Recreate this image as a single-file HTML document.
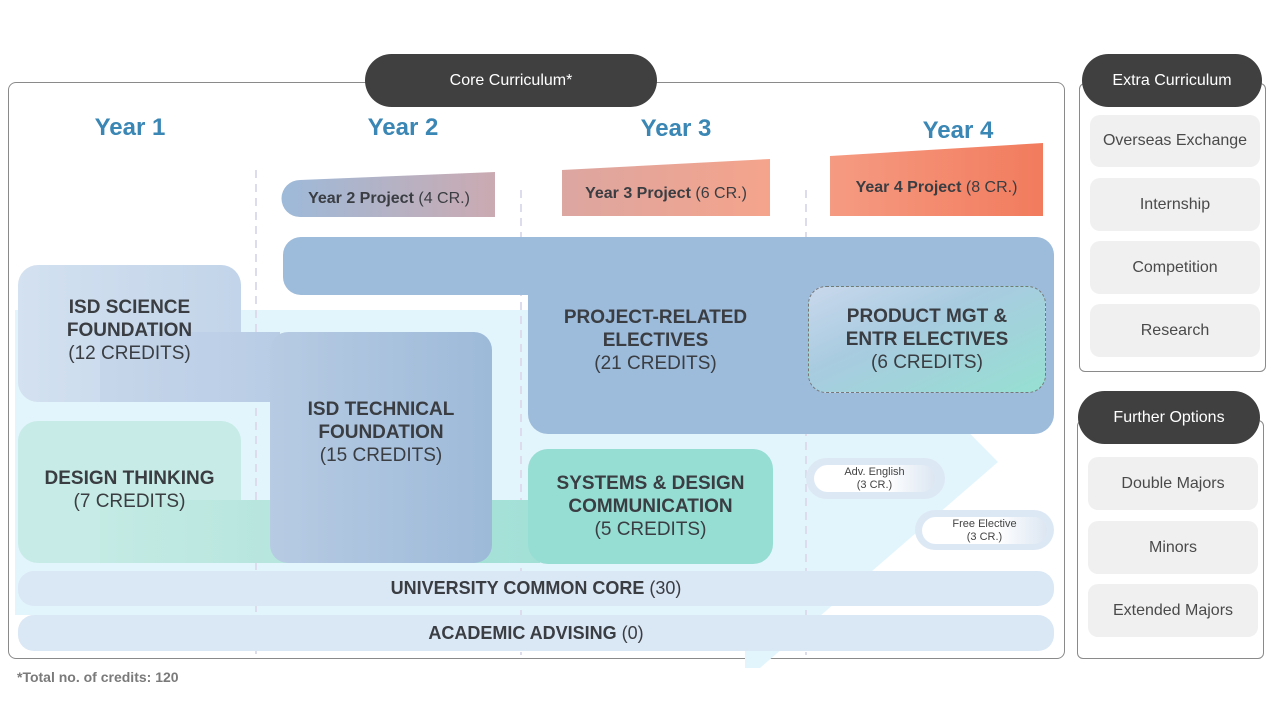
<!DOCTYPE html>
<html><head><meta charset="utf-8"><style>
*{margin:0;padding:0;box-sizing:border-box}
body{width:1280px;height:720px;background:#fff;position:relative;overflow:hidden;font-family:"Liberation Sans",sans-serif;color:#3a3d42}
.a{position:absolute}
.c{display:flex;align-items:center;justify-content:center;text-align:center}
.b{font-weight:bold;font-size:19px;line-height:23px}
.n{font-weight:normal}
.yr{color:#3a86b4;font-weight:bold;font-size:24px;width:160px;text-align:center}
.pill{background:#404040;color:#fff;border-radius:27px;font-size:16px}
.item{background:#f0f0f0;border-radius:10px;font-size:16px;color:#4a4a4a}
</style></head><body>
<div class="a" style="left:8px;top:82px;width:1057px;height:577px;border:1px solid #8a8a8a;border-radius:8px"></div>
<svg class="a" style="left:0;top:0" width="1280" height="720">
<polygon points="15,310 848,310 998,462 760,668 745,668 745,615 15,615" fill="#e3f5fc"/>
<g stroke="#dcdcec" stroke-width="2" stroke-dasharray="8,6">
<line x1="256" y1="170" x2="256" y2="655"/><line x1="521" y1="190" x2="521" y2="655"/><line x1="806" y1="190" x2="806" y2="655"/></g>
<defs>
<linearGradient id="g2"><stop offset="0" stop-color="#9dbad9"/><stop offset="1" stop-color="#cbaab1"/></linearGradient>
<linearGradient id="g3"><stop offset="0" stop-color="#dca6a1"/><stop offset="1" stop-color="#f5a48b"/></linearGradient>
<linearGradient id="g4"><stop offset="0" stop-color="#f59b82"/><stop offset="1" stop-color="#f27b5d"/></linearGradient>
</defs>
<path d="M300,180 L495,172 L495,217 L300,217 A18,18 0 0 1 300,180 Z" fill="url(#g2)"/>
<polygon points="562,170 770,159 770,216 562,216" fill="url(#g3)"/>
<polygon points="830,156 1043,143 1043,216 830,216" fill="url(#g4)"/>
</svg>
<div class="a c" style="left:283px;top:180px;width:212px;height:37px;font-size:16px;font-weight:bold"><div>Year 2 Project <span class="n">(4 CR.)</span></div></div>
<div class="a c" style="left:562px;top:172px;width:208px;height:44px;font-size:16px;font-weight:bold"><div>Year 3 Project <span class="n">(6 CR.)</span></div></div>
<div class="a c" style="left:830px;top:160px;width:213px;height:56px;font-size:16px;font-weight:bold"><div>Year 4 Project <span class="n">(8 CR.)</span></div></div>
<div class="a pill c" style="left:365px;top:54px;width:292px;height:53px">Core Curriculum*</div>
<div class="a yr" style="left:50px;top:114px">Year 1</div>
<div class="a yr" style="left:323px;top:114px">Year 2</div>
<div class="a yr" style="left:596px;top:115px">Year 3</div>
<div class="a yr" style="left:878px;top:117px">Year 4</div>
<!-- project related -->
<div class="a" style="left:283px;top:237px;width:771px;height:58px;background:#9dbbdb;border-radius:18px"></div>
<div class="a" style="left:528px;top:237px;width:526px;height:197px;background:#9dbbdb;border-radius:20px"></div>
<div class="a" style="left:528px;top:260px;width:40px;height:60px;background:#9dbbdb"></div>
<div class="a c b" style="left:528px;top:295px;width:255px;height:90px"><div>PROJECT-RELATED<br>ELECTIVES<br><span class="n">(21 CREDITS)</span></div></div>
<div class="a c b" style="left:808px;top:286px;width:238px;height:107px;border:1px dashed #777;border-radius:18px;background:linear-gradient(155deg,#c9d8ec 0%,#a8cbe0 40%,#96e0d2 100%)"><div>PRODUCT MGT &amp;<br>ENTR ELECTIVES<br><span class="n">(6 CREDITS)</span></div></div>
<!-- science -->
<div class="a" style="left:18px;top:265px;width:223px;height:137px;border-radius:20px;background:linear-gradient(90deg,#d3e1f0,#c2d4e9)"></div>
<div class="a" style="left:100px;top:332px;width:180px;height:70px;background:linear-gradient(90deg,#c6d6ea,#b8cce5)"></div>
<div class="a c b" style="left:18px;top:285px;width:223px;height:90px"><div>ISD SCIENCE<br>FOUNDATION<br><span class="n">(12 CREDITS)</span></div></div>
<!-- design thinking -->
<div class="a" style="left:18px;top:421px;width:223px;height:142px;border-radius:20px;background:#c7ebe6"></div>
<div class="a" style="left:100px;top:500px;width:440px;height:63px;background:linear-gradient(90deg,#c4eae4,#a2e0d6)"></div>
<div class="a c b" style="left:18px;top:460px;width:223px;height:60px"><div>DESIGN THINKING<br><span class="n">(7 CREDITS)</span></div></div>
<!-- technical -->
<div class="a c b" style="left:270px;top:332px;width:222px;height:231px;border-radius:18px;background:linear-gradient(90deg,#b7cbe3,#9dbad9)"><div style="margin-top:-30px">ISD TECHNICAL<br>FOUNDATION<br><span class="n">(15 CREDITS)</span></div></div>
<!-- systems -->
<div class="a c b" style="left:528px;top:449px;width:245px;height:115px;border-radius:20px;background:#96ddd3"><div>SYSTEMS &amp; DESIGN<br>COMMUNICATION<br><span class="n">(5 CREDITS)</span></div></div>
<!-- small pills -->
<div class="a" style="left:806px;top:458px;width:139px;height:41px;border-radius:21px;background:#dde8f5"></div>
<div class="a c" style="left:814px;top:465px;width:121px;height:27px;border-radius:14px;background:linear-gradient(90deg,#fff 60%,#dce6f2);font-size:11px;line-height:13px;color:#444"><div>Adv. English<br>(3 CR.)</div></div>
<div class="a" style="left:915px;top:510px;width:139px;height:40px;border-radius:20px;background:#dde8f5"></div>
<div class="a c" style="left:922px;top:517px;width:125px;height:27px;border-radius:14px;background:linear-gradient(90deg,#fff 60%,#dce6f2);font-size:11px;line-height:13px;color:#444"><div>Free Elective<br>(3 CR.)</div></div>
<!-- bars -->
<div class="a c" style="left:18px;top:571px;width:1036px;height:35px;border-radius:16px;background:#dae7f5;font-weight:bold;font-size:18px"><div>UNIVERSITY COMMON CORE <span class="n">(30)</span></div></div>
<div class="a c" style="left:18px;top:615px;width:1036px;height:36px;border-radius:16px;background:#dae7f5;font-weight:bold;font-size:18px"><div>ACADEMIC ADVISING <span class="n">(0)</span></div></div>
<div class="a" style="left:17px;top:669px;font-size:14px;font-weight:bold;color:#7a7a7a">*Total no. of credits: 120</div>
<!-- right panels -->
<div class="a" style="left:1079px;top:83px;width:187px;height:289px;border:1px solid #8a8a8a;border-radius:6px"></div>
<div class="a pill c" style="left:1082px;top:54px;width:180px;height:53px">Extra Curriculum</div>
<div class="a item c" style="left:1090px;top:115px;width:170px;height:52px">Overseas Exchange</div>
<div class="a item c" style="left:1090px;top:178px;width:170px;height:53px">Internship</div>
<div class="a item c" style="left:1090px;top:241px;width:170px;height:53px">Competition</div>
<div class="a item c" style="left:1090px;top:304px;width:170px;height:53px">Research</div>
<div class="a" style="left:1077px;top:420px;width:187px;height:239px;border:1px solid #8a8a8a;border-radius:6px"></div>
<div class="a pill c" style="left:1078px;top:391px;width:182px;height:53px">Further Options</div>
<div class="a item c" style="left:1088px;top:457px;width:170px;height:53px">Double Majors</div>
<div class="a item c" style="left:1088px;top:521px;width:170px;height:53px">Minors</div>
<div class="a item c" style="left:1088px;top:584px;width:170px;height:53px">Extended Majors</div>
</body></html>
